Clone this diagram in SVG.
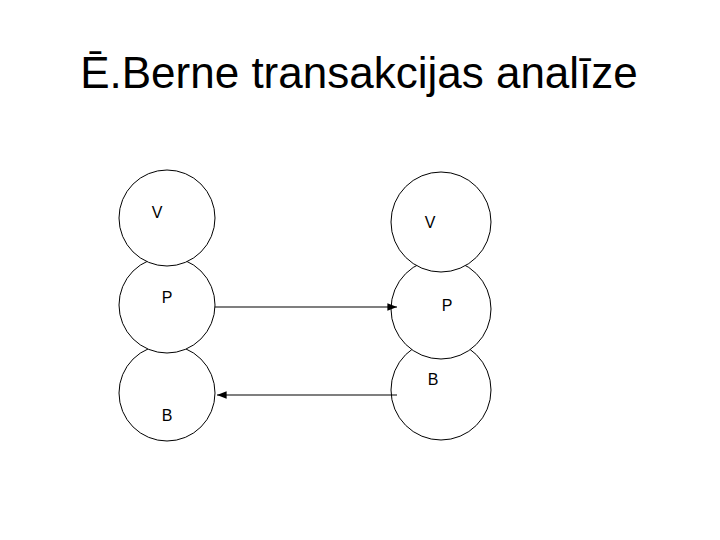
<svg xmlns="http://www.w3.org/2000/svg" width="720" height="540" viewBox="0 0 720 540">
<style>
.c{fill:#fff;stroke:#000;stroke-width:1}
.t{font-family:"Liberation Sans",Arial,sans-serif;font-size:16px;fill:#000;text-anchor:middle}
.l{stroke:#000;stroke-width:1.2;fill:none}
</style>
<defs><marker id="a" viewBox="0 0 10 10" refX="10" refY="5" markerWidth="8" markerHeight="8" orient="auto"><path d="M0,1 L10,5 L0,9 z" fill="#000"/></marker></defs>
<rect width="720" height="540" fill="#fff"/>
<text x="359" y="88" style="font-family:'Liberation Sans',Arial,sans-serif;font-size:44px;text-anchor:middle">Ē.Berne transakcijas analīze</text>
<g id="L3"><circle class="c" cx="167" cy="393" r="48"/><text class="t" x="167" y="421">B</text></g>
<g id="L2"><circle class="c" cx="167" cy="305" r="48"/><text class="t" x="167" y="303">P</text></g>
<g id="L1"><circle class="c" cx="167" cy="218" r="48"/><text class="t" x="157" y="218">V</text></g>
<g id="R3"><circle class="c" cx="441" cy="390" r="50"/><text class="t" x="433" y="385">B</text></g>
<g id="R2"><circle class="c" cx="441" cy="309" r="50"/><text class="t" x="447" y="311">P</text></g>
<g id="R1"><circle class="c" cx="441" cy="222" r="50"/><text class="t" x="430" y="228">V</text></g>
<g id="connectors">
<line class="l" x1="215" y1="307" x2="397" y2="307" marker-end="url(#a)"/>
<line class="l" x1="397" y1="395" x2="217" y2="395" marker-end="url(#a)"/>
</g>
</svg>
